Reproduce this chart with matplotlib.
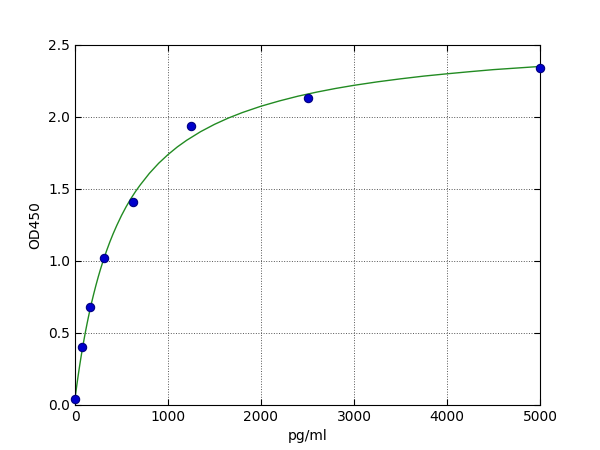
import matplotlib
matplotlib.use("Agg")
import matplotlib.pyplot as plt

# Standard points
conc = [0, 78, 156, 312, 625, 1250, 2500, 5000]
od = [0.04, 0.40, 0.68, 1.02, 1.41, 1.94, 2.13, 2.34]

# Fitted curve, values
curve_x = [0, 5, 10, 15, 20, 30, 40, 50, 60, 70, 80, 90, 100, 115, 130, 145, 160,
           180, 200, 225, 250, 275, 300, 340, 375, 410, 450, 500, 550, 600, 650,
           700, 800, 900, 1000, 1100, 1200, 1350, 1500, 1650, 1800, 2000, 2200,
           2400, 2600, 2800, 3000, 3250, 3500, 3750, 4000, 4250, 4500, 4750, 5000]
curve_y = [0.045, 0.068, 0.092, 0.116, 0.140, 0.186, 0.230, 0.273, 0.314, 0.354,
           0.392, 0.429, 0.465, 0.517, 0.566, 0.613, 0.658, 0.715, 0.768, 0.831,
           0.890, 0.945, 0.996, 1.072, 1.133, 1.189, 1.248, 1.316, 1.377, 1.432,
           1.482, 1.527, 1.609, 1.679, 1.739, 1.792, 1.838, 1.898, 1.949, 1.993,
           2.031, 2.075, 2.112, 2.145, 2.173, 2.198, 2.220, 2.244, 2.265, 2.284,
           2.300, 2.315, 2.329, 2.340, 2.351]

xticks = [0, 1000, 2000, 3000, 4000, 5000]
yticks = [0.0, 0.5, 1.0, 1.5, 2.0, 2.5]

fig = plt.figure(figsize=(6, 4.5), dpi=100)
ax = fig.add_axes([0.125, 0.1, 0.775, 0.8])
ax.plot(curve_x, curve_y, color="#228B22", lw=1.0, zorder=2)
ax.plot(conc, od, "o", color="#0000cc", markeredgecolor="#000080",
        markersize=6, markeredgewidth=0.8, zorder=3, clip_on=False)
ax.set_xlim(0, 5000)
ax.set_ylim(0, 2.5)
ax.set_xticks(xticks)
ax.set_yticks(yticks)
ax.set_yticklabels([f"{v:.1f}" for v in yticks])
ax.grid(True, color="#555555", linestyle=":", linewidth=0.7)
ax.tick_params(direction="in", top=True, right=True, labelsize=10, length=4)
ax.set_xlabel("pg/ml", fontsize=10)
ax.set_ylabel("OD450", fontsize=10)
fig.savefig("out.png", dpi=100)
